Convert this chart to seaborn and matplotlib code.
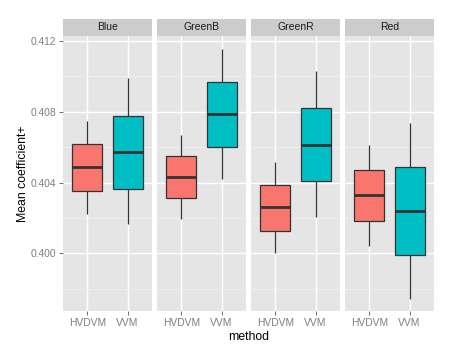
import numpy as np
import pandas as pd
import matplotlib
matplotlib.use("Agg")
import matplotlib.pyplot as plt
import seaborn as sns
from matplotlib.patches import Rectangle

# ---- data (five-number summaries) ----
channels = ["Blue", "GreenB", "GreenR", "Red"]
methods = ["HVDVM", "VVM"]
blue_hvdvm = [0.40220, 0.40350, 0.40489, 0.40616, 0.40747]
blue_vvm = [0.40164, 0.40362, 0.40574, 0.40777, 0.40989]
greenb_hvdvm = [0.40195, 0.40311, 0.40433, 0.40548, 0.40668]
greenb_vvm = [0.40418, 0.40599, 0.40787, 0.40966, 0.41153]
greenr_hvdvm = [0.40003, 0.40128, 0.40263, 0.40384, 0.40514]
greenr_vvm = [0.40207, 0.40407, 0.40614, 0.40819, 0.41030]
red_hvdvm = [0.40041, 0.40184, 0.40331, 0.40469, 0.40610]
red_vvm = [0.39744, 0.39989, 0.40241, 0.40486, 0.40734]
y_ticks = [0.400, 0.404, 0.408, 0.412]
y_minor = [0.398, 0.402, 0.406, 0.410]

groups = {
    ("Blue", "HVDVM"): blue_hvdvm, ("Blue", "VVM"): blue_vvm,
    ("GreenB", "HVDVM"): greenb_hvdvm, ("GreenB", "VVM"): greenb_vvm,
    ("GreenR", "HVDVM"): greenr_hvdvm, ("GreenR", "VVM"): greenr_vvm,
    ("Red", "HVDVM"): red_hvdvm, ("Red", "VVM"): red_vvm,
}
rows = []
for (ch, m), vals in groups.items():
    for v in vals:
        rows.append({"channel": ch, "method": m, "value": v})
df = pd.DataFrame(rows)

sns.set_theme(style="darkgrid")
plt.rcParams["font.family"] = ["Liberation Sans", "DejaVu Sans"]

W, H = 454, 356
fig, axes = plt.subplots(1, 4, figsize=(W / 100, H / 100), dpi=100, sharey=True)
left, right = 63.3 / W, 433.7 / W
bottom, top = 1 - 310.7 / H, 1 - 36 / H
fig.subplots_adjust(left=left, right=right, bottom=bottom, top=top, wspace=0.063)

palette = {"HVDVM": "#F8766D", "VVM": "#00BFC4"}
panel_h_px = 310.7 - 36
strip_h = 17 / panel_h_px

for i, (ax, ch) in enumerate(zip(axes, channels)):
    sub = df[df["channel"] == ch]
    sns.boxplot(data=sub, x="method", y="value", hue="method", order=methods,
                hue_order=methods, palette=palette, saturation=1, width=0.75,
                linecolor="#333333", linewidth=0.9, legend=False, ax=ax,
                medianprops=dict(color="#333333", linewidth=2.0),
                capprops=dict(linewidth=0), showfliers=False)
    ax.set_facecolor("#E5E5E5")
    ax.set_xlim(-0.6, 1.6)
    ax.set_ylim(0.39676, 0.41228)
    ax.set_yticks(y_ticks)
    ax.set_yticks(y_minor, minor=True)
    ax.set_yticklabels([f"{t:.3f}" for t in y_ticks])
    ax.grid(which="major", color="white", linewidth=1.0)
    ax.grid(which="minor", axis="y", color="#F2F2F2", linewidth=0.5)
    ax.set_axisbelow(True)
    for s in ax.spines.values():
        s.set_visible(False)
    ax.set_xlabel("")
    ax.set_ylabel("")
    ax.tick_params(axis="x", which="major", length=3, width=0.6, color="#555555",
                   labelsize=7.4, labelcolor="#7F7F7F", pad=2, bottom=True)
    ax.tick_params(axis="y", which="major", length=3 if i == 0 else 0, width=0.6,
                   color="#555555", labelsize=7.4, labelcolor="#7F7F7F", pad=2,
                   left=(i == 0), labelleft=(i == 0))
    ax.tick_params(axis="y", which="minor", length=0)
    ax.add_patch(Rectangle((0, 1), 1, strip_h, transform=ax.transAxes,
                           facecolor="#CCCCCC", edgecolor="none", clip_on=False))
    ax.text(0.5, 1 + strip_h / 2, ch, transform=ax.transAxes, ha="center",
            va="center", fontsize=7.5, color="#1A1A1A")

fig.text(23 / W, 1 - 173.4 / H, "Mean coefficient+", rotation=90, ha="center",
         va="center", fontsize=8.8, color="black")
fig.text(248.5 / W, 1 - 337 / H, "method", ha="center", va="center",
         fontsize=8.8, color="black")

fig.savefig("out.png", dpi=100, facecolor="white")
